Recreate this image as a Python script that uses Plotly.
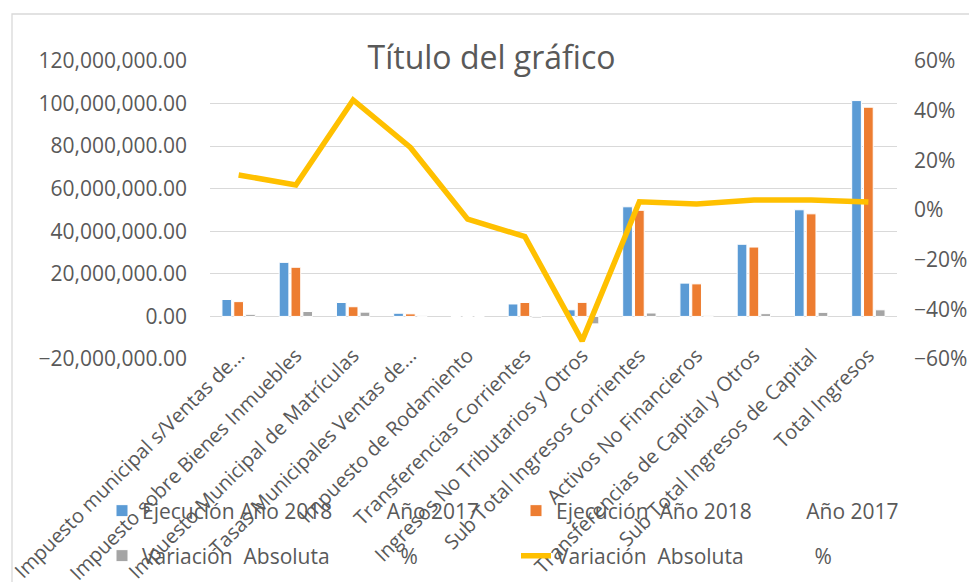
import plotly.graph_objects as go

categories = [
    "Impuesto municipal s/Ventas de...",
    "Impuesto sobre Bienes Inmuebles",
    "Impuesto Municipal de Matrículas",
    "Tasas Municipales Ventas de...",
    "Impuesto de Rodamiento",
    "Transferencias Corrientes",
    "Ingresos No Tributarios y Otros",
    "Sub Total Ingresos Corrientes",
    "Activos No Financieros",
    "Transferencias de Capital y Otros",
    "Sub Total Ingresos de Capital",
    "Total Ingresos",
]
ejecucion_a = [7950000, 25400000, 6550000, 1500000, 0, 5850000, 3100000, 51500000, 15650000, 33900000, 50100000, 101400000]
ejecucion_b = [6950000, 23100000, 4550000, 1200000, 0, 6550000, 6600000, 49850000, 15300000, 32600000, 48200000, 98300000]
variacion_abs = [1000000, 2300000, 2000000, 300000, 0, -700000, -3500000, 1600000, 350000, 1300000, 1900000, 3100000]
variacion_pct = [0.141, 0.101, 0.443, 0.252, -0.037, -0.107, -0.527, 0.033, 0.024, 0.040, 0.040, 0.032]

NB = "\u00a0"
name_a = "Ejecución Año 2018" + NB * 10 + "Año 2017"
name_b = "Ejecución" + NB * 2 + "Año 2018" + NB * 10 + "Año 2017"
name_c = "Variación" + NB * 2 + "Absoluta" + NB * 13 + "%"
name_d = "Variación" + NB * 2 + "Absoluta" + NB * 13 + "%"

FONT = "Open Sans"
TXT = "#595959"
GRID = "#D9D9D9"

fig = go.Figure()
fig.add_trace(go.Bar(x=categories, y=ejecucion_a, name=name_a, marker=dict(color="#5B9BD5", line=dict(color="white", width=1)), legend="legend"))
fig.add_trace(go.Bar(x=categories, y=ejecucion_b, name=name_b, marker=dict(color="#ED7D31", line=dict(color="white", width=1)), legend="legend2"))
fig.add_trace(go.Bar(x=categories, y=variacion_abs, name=name_c, marker=dict(color="#A5A5A5", line=dict(color="white", width=1)), legend="legend3"))
fig.add_trace(go.Scatter(x=categories, y=variacion_pct, name=name_d, mode="lines", line=dict(color="#FFC000", width=5.5), yaxis="y2", legend="legend4"))

W, H = 969, 582
L, R, T, B = 210, 72, 61, 223
pw, ph = W - L - R, H - T - B

def px_x(p):
    return (p - L) / pw

def px_y(p):
    return (H - B - p) / ph

def leg(xpx, ypx):
    return dict(orientation="h", xref="container", yref="container", x=xpx / W, xanchor="left",
                y=1 - ypx / H, yanchor="middle",
                font=dict(family=FONT, size=21, color=TXT), bgcolor="rgba(0,0,0,0)")

fig.update_layout(
    width=W, height=H,
    template="none",
    paper_bgcolor="white", plot_bgcolor="white",
    margin=dict(l=L, r=R, t=T, b=B, autoexpand=False),
    font=dict(family=FONT, color=TXT, size=20),
    title=dict(text="Título del gráfico", font=dict(family=FONT, size=32, color=TXT),
               x=491.5 / W, xanchor="center", xref="container",
               y=1 - 58 / H, yanchor="middle", yref="container"),
    barmode="group", bargap=0.38, bargroupgap=0.18,
    showlegend=True,
    legend=leg(102, 511),
    legend2=leg(516, 511),
    legend3=leg(102, 556),
    legend4=leg(516, 556),
    xaxis=dict(type="category", tickangle=-45, showgrid=False, showline=False, zeroline=False,
               ticks="", automargin=False, tickfont=dict(family=FONT, size=20, color=TXT),
               ticklabelstandoff=-20),
    yaxis=dict(range=[-20000000, 120000000], dtick=20000000, tickformat=",.2f", showgrid=True,
               gridcolor=GRID, gridwidth=1.3, zeroline=True, zerolinecolor=GRID, zerolinewidth=1.3,
               showline=False, ticks="", automargin=False, ticklabelstandoff=22,
               tickfont=dict(family=FONT, size=21, color=TXT)),
    yaxis2=dict(range=[-0.6, 0.6], dtick=0.2, tickformat=".0%", overlaying="y", side="right",
                showgrid=False, zeroline=False, showline=False, ticks="", automargin=False,
                ticklabelstandoff=16, tickfont=dict(family=FONT, size=21, color=TXT)),
    shapes=[dict(type="rect", xref="paper", yref="paper", x0=px_x(12), x1=px_x(990),
                 y0=px_y(600), y1=px_y(14), line=dict(color="#D9D9D9", width=1.3),
                 fillcolor="rgba(0,0,0,0)", layer="below")],
)

fig.write_html("out.html", config={"displayModeBar": False},
               post_script="document.body.style.margin='0';document.body.style.overflow='hidden';")
